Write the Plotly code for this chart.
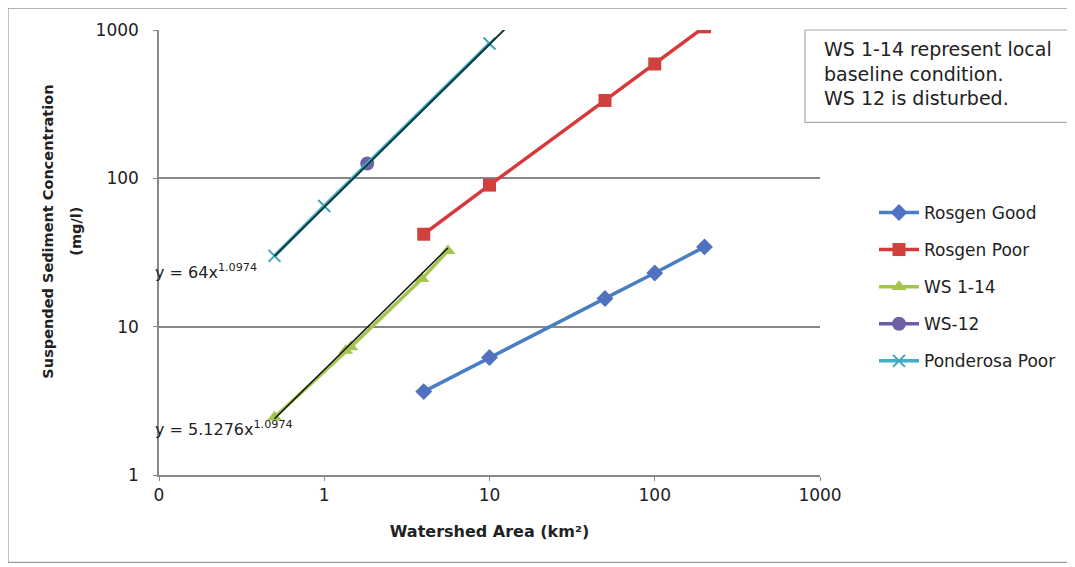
import plotly.graph_objects as go
import numpy as np

# Data
rg_x = [4, 10, 50, 100, 200]
rg_good = [3.65, 6.2, 15.5, 23, 34.5]
rg_poor = [42, 90, 335, 590, 1050]

ws_x = [0.5, 1.35, 1.45, 3.9, 5.6]
ws_y = [2.45, 6.9, 7.3, 21, 32.5]

ws12_x = [1.82]
ws12_y = [126]

pp_x = [0.5, 1, 10]
pp_y = [30, 65, 810]

trend_exp = 1.0974
ws_coef = 5.1276
pp_coef = 64.0

xtick_vals = [0.1, 1, 10, 100, 1000]
xtick_text = ["0", "1", "10", "100", "1000"]
ytick_vals = [1, 10, 100, 1000]
ytick_text = ["1", "10", "100", "1000"]

# page offset (body margin) compensation
OFF = 8
W, H = 1075 - OFF, 567 - OFF
L, R, T, B = 159, 820, 27, 475  # plot area in page pixels

FONT = "DejaVu Sans, sans-serif"
TXT = "#222222"

fig = go.Figure()

fig.add_trace(go.Scatter(x=rg_x, y=rg_good, name="Rosgen Good", mode="lines+markers",
                         line=dict(color="#4A7EC4", width=3.5),
                         marker=dict(symbol="diamond", size=13, color="#5070C0"),
                         legendgroup="a"))
fig.add_trace(go.Scatter(x=rg_x, y=rg_poor, name="Rosgen Poor", mode="lines+markers",
                         line=dict(color="#D9383A", width=3.5),
                         marker=dict(symbol="square", size=13, color="#D0403F"),
                         legendgroup="b"))
fig.add_trace(go.Scatter(x=ws_x, y=ws_y, name="WS 1-14", mode="lines+markers",
                         line=dict(color="#A4C64E", width=3.5),
                         marker=dict(symbol="triangle-up", size=13, color="#A4C64E"),
                         legendgroup="c"))
fig.add_trace(go.Scatter(x=ws12_x, y=ws12_y, name="WS-12", mode="lines+markers",
                         line=dict(color="#6A5CA8", width=3.5),
                         marker=dict(symbol="circle", size=14, color="#7060A8"),
                         legendgroup="d"))
fig.add_trace(go.Scatter(x=pp_x, y=pp_y, name="Ponderosa Poor", mode="lines+markers",
                         line=dict(color="#3FB0C8", width=3.5),
                         marker=dict(symbol="x-thin", size=12, color="#3FA8B8",
                                     line=dict(color="#3FA8B8", width=2)),
                         legendgroup="e"))

# power trendlines
tx1 = np.array([ws_x[0], ws_x[-1]])
fig.add_trace(go.Scatter(x=tx1, y=ws_coef * tx1 ** trend_exp, mode="lines",
                         line=dict(color="#111111", width=1.5), showlegend=False,
                         hoverinfo="skip"))
tx2 = np.array([pp_x[0], 14])
fig.add_trace(go.Scatter(x=tx2, y=pp_coef * tx2 ** trend_exp, mode="lines",
                         line=dict(color="#103838", width=2), showlegend=False,
                         hoverinfo="skip"))


def px_x(p):
    return (p - L) / (R - L)


def px_y(p):
    return (B - p) / (B - T)


fig.update_layout(
    width=W, height=H,
    margin=dict(l=L - OFF, r=W - (R - OFF), t=T - OFF, b=H - (B - OFF)),
    paper_bgcolor="white", plot_bgcolor="white",
    font=dict(family=FONT, color=TXT),
    showlegend=True,
    legend=dict(x=px_x(874), y=px_y(193), xanchor="left", yanchor="top",
                font=dict(size=17, color=TXT, family=FONT), tracegroupgap=12,
                itemwidth=40, bgcolor="rgba(0,0,0,0)"),
    xaxis=dict(type="log", range=[-1, 3], tickvals=xtick_vals, ticktext=xtick_text,
               showgrid=False, showline=True, linecolor="#888888", linewidth=1.5,
               ticks="outside", ticklen=4, tickcolor="#888888", zeroline=False,
               tickfont=dict(size=17, color=TXT, family=FONT),
               title=dict(text="<b>Watershed Area (km²)</b>",
                          font=dict(size=16, family=FONT, color=TXT), standoff=22)),
    yaxis=dict(type="log", range=[0, 3], tickvals=ytick_vals, ticktext=ytick_text,
               showgrid=True, gridcolor="#888888", gridwidth=1.5,
               showline=True, linecolor="#888888", linewidth=1.5,
               ticks="outside", ticklen=4, tickcolor="#888888", zeroline=False,
               ticklabelstandoff=11,
               tickfont=dict(size=17, color=TXT, family=FONT)),
    annotations=[
        dict(x=px_x(48), y=px_y(230), xref="paper", yref="paper", xanchor="center",
             yanchor="middle", showarrow=False, textangle=-90,
             text="<b>Suspended Sediment Concentration</b>",
             font=dict(size=14.5, color=TXT, family=FONT)),
        dict(x=px_x(76), y=px_y(230), xref="paper", yref="paper", xanchor="center",
             yanchor="middle", showarrow=False, textangle=-90,
             text="<b>(mg/l)</b>",
             font=dict(size=14.5, color=TXT, family=FONT)),
        dict(x=px_x(153), y=px_y(270), xref="paper", yref="paper", xanchor="left",
             yanchor="middle", showarrow=False,
             text="y = 64x<sup>1.0974</sup>", font=dict(size=16, color=TXT, family=FONT)),
        dict(x=px_x(153), y=px_y(428), xref="paper", yref="paper", xanchor="left",
             yanchor="middle", showarrow=False,
             text="y = 5.1276x<sup>1.0974</sup>", font=dict(size=16, color=TXT, family=FONT)),
        dict(x=px_x(822), y=px_y(33), xref="paper", yref="paper", xanchor="left",
             yanchor="top", showarrow=False, align="left",
             text="WS 1-14 represent local<br>baseline condition.<br>WS 12 is disturbed.",
             font=dict(size=19, color=TXT, family=FONT)),
    ],
    shapes=[
        dict(type="rect", xref="paper", yref="paper",
             x0=px_x(805), x1=px_x(1070), y0=px_y(120), y1=px_y(27),
             line=dict(color="#AAAAAA", width=1.2), fillcolor="white", layer="below"),
        dict(type="rect", xref="paper", yref="paper",
             x0=px_x(8), x1=px_x(1071), y0=px_y(563), y1=px_y(5),
             line=dict(color="#999999", width=1.2), layer="below"),
    ],
)

fig.write_html("out.html")
